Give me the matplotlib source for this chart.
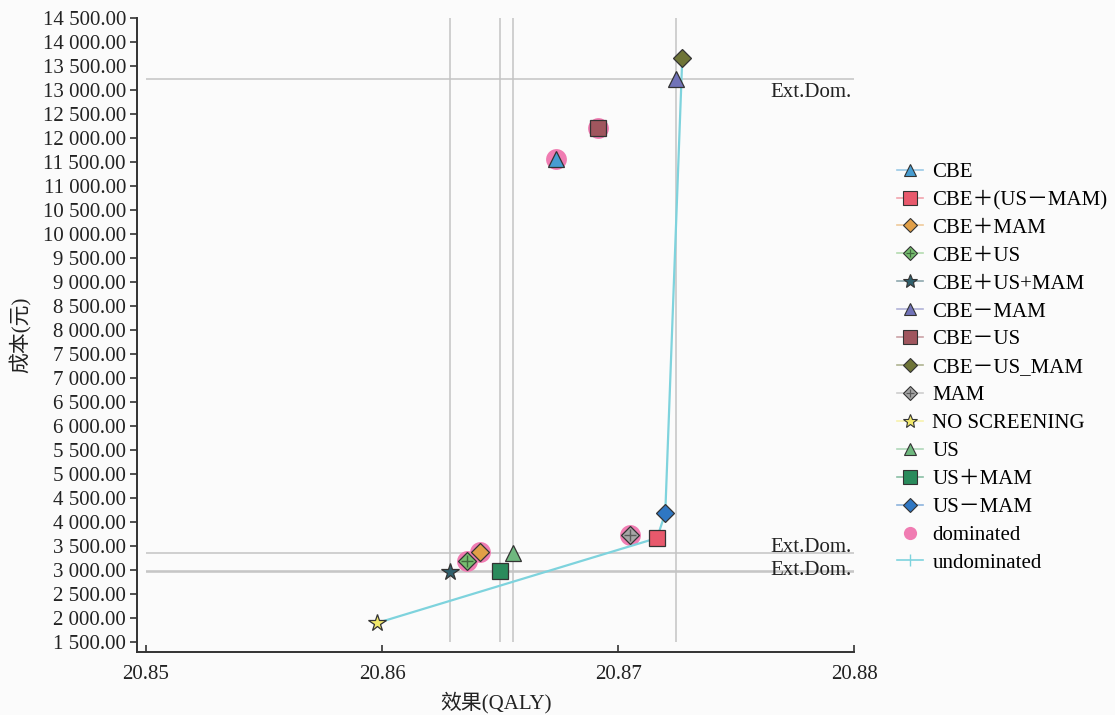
import matplotlib
matplotlib.use("Agg")
import matplotlib.pyplot as plt
from matplotlib.lines import Line2D
from matplotlib.legend_handler import HandlerTuple
from matplotlib.ticker import FuncFormatter
import matplotlib.colors as mcolors

plt.rcParams['font.family'] = ['Liberation Serif', 'Noto Sans CJK SC']
plt.rcParams['font.size'] = 15

# data
strategies = ['CBE', 'CBE＋(US－MAM)', 'CBE＋MAM', 'CBE＋US', 'CBE＋US+MAM',
              'CBE－MAM', 'CBE－US', 'CBE－US_MAM', 'MAM', 'NO SCREENING',
              'US', 'US＋MAM', 'US－MAM']
effects = [20.86737, 20.87164, 20.86415, 20.86360, 20.86288,
           20.87246, 20.86915, 20.87271, 20.87048, 20.85977,
           20.86555, 20.86500, 20.87199]
costs = [11562, 3667, 3375, 3188, 2958,
         13229, 12208, 13667, 3729, 1896,
         3354, 2979, 4187]
dominated = ['CBE', 'CBE－US', 'CBE＋MAM', 'CBE＋US', 'MAM']
ext_dominated = ['CBE＋US+MAM', 'US＋MAM', 'US', 'CBE－MAM']
frontier = ['NO SCREENING', 'CBE＋(US－MAM)', 'US－MAM', 'CBE－US_MAM']

# style per strategy
colors = ['#479dd1', '#e8596c', '#e19f47', '#77be70', '#2f5f6c',
          '#7173b8', '#a0565e', '#6e7437', '#a6a6a6', '#f1e86a',
          '#6fb87f', '#2a8b5c', '#2f77c3']
markers = ['^', 's', 'D', 'D', '*', '^', 's', 'D', 'D', '*', '^', 's', 'D']
sizes = [11.5, 12, 9.3, 9.3, 13, 11.5, 12, 9.3, 9.3, 13, 11.5, 12, 9.3]
patterned = ['CBE＋US', 'MAM']
# label baseline offsets (points); the two near-equal lines share one label
ext_label_offset = {'US＋MAM': -3, 'US': 1, 'CBE－MAM': -13}

bg = '#fbfbfb'
grid_c = '#c4c4c4'
dom_c = '#f07cb2'
front_c = '#7ed3dd'


def lighten(c, amt=0.45):
    r, g, b = mcolors.to_rgb(c)
    return (r + (1 - r) * amt, g + (1 - g) * amt, b + (1 - b) * amt)


def darken(c, amt=0.45):
    r, g, b = mcolors.to_rgb(c)
    return (r * (1 - amt), g * (1 - amt), b * (1 - amt))


fig = plt.figure(figsize=(11.15, 7.15), dpi=100, facecolor=bg)
ax = fig.add_axes([0.1229, 0.088, 0.6434, 0.887])
ax.set_facecolor(bg)

x_lo, x_hi = 20.85, 20.88
y_lo, y_hi = 1500, 14500
ax.set_xlim(x_lo - 0.00038, x_hi)
ax.set_ylim(y_lo - 208, y_hi)

idx = {s: i for i, s in enumerate(strategies)}

# extended dominance cross lines
for s in ext_dominated:
    i = idx[s]
    ax.vlines(effects[i], y_lo, y_hi, color=grid_c, lw=1.1, zorder=1)
    ax.hlines(costs[i], x_lo, x_hi, color=grid_c, lw=1.1, zorder=1)
    if s in ext_label_offset:
        ax.annotate('Ext.Dom.', (x_hi, costs[i]), xytext=(-2, ext_label_offset[s]),
                    textcoords='offset points', ha='right', va='baseline',
                    fontsize=15, color='#222222', zorder=2)

# dominated halos
for s in dominated:
    i = idx[s]
    ax.plot(effects[i], costs[i], 'o', color=dom_c, ms=15, mec='none', zorder=3)

# frontier
fx = [effects[idx[s]] for s in frontier]
fy = [costs[idx[s]] for s in frontier]
ax.plot(fx, fy, color=front_c, lw=1.6, zorder=4)

handles = []
for i, s in enumerate(strategies):
    ax.plot(effects[i], costs[i], markers[i], color=colors[i], ms=sizes[i],
            mec='#333333', mew=0.9, zorder=5)
    h = Line2D([], [], color=lighten(colors[i]), lw=1.2, marker=markers[i],
               mfc=colors[i], mec='#333333', mew=0.8, ms=sizes[i] * 0.8)
    if s in patterned:
        ax.plot(effects[i], costs[i], '+', color=darken(colors[i]), ms=8, mew=1.0, zorder=6)
        h2 = Line2D([], [], ls='none', marker='+', color=darken(colors[i]), ms=6, mew=0.9)
        h = (h, h2)
    handles.append(h)

handles.append(Line2D([], [], ls='none', marker='o', color=dom_c, ms=9.5, mec='none'))
handles.append(Line2D([], [], color=front_c, lw=1.2, marker='|', ms=9, mew=1.0))
labels = strategies + ['dominated', 'undominated']

fig.legend(handles, labels, loc='center left', bbox_to_anchor=(0.8045, 0.486),
           frameon=False, borderpad=0, borderaxespad=0, handlelength=1.25,
           handletextpad=0.45, labelspacing=0.4, fontsize=15,
           handler_map={tuple: HandlerTuple(ndivide=1)})

# axes styling
ax.spines['top'].set_visible(False)
ax.spines['right'].set_visible(False)
for sp in ['left', 'bottom']:
    ax.spines[sp].set_color('#333333')
    ax.spines[sp].set_linewidth(1.4)

ax.set_xticks([20.85, 20.86, 20.87, 20.88])
ax.set_yticks(range(y_lo, y_hi + 1, 500))
ax.xaxis.set_major_formatter(FuncFormatter(lambda v, p: f"{v:.2f}"))
ax.yaxis.set_major_formatter(FuncFormatter(lambda v, p: f"{v:,.2f}".replace(',', ' ')))
ax.tick_params(axis='x', direction='in', length=5, width=1.2, color='#333333',
               labelsize=15, pad=9, labelcolor='#222222')
ax.tick_params(axis='y', direction='out', length=5, width=1.2, color='#333333',
               labelsize=15, pad=3, labelcolor='#222222')

ax.set_xlabel('效果(QALY)', fontsize=15, color='#222222', labelpad=6)
ax.set_ylabel('成本(元)', fontsize=15, color='#222222', labelpad=8)

fig.savefig('out.png', dpi=100, facecolor=bg)
